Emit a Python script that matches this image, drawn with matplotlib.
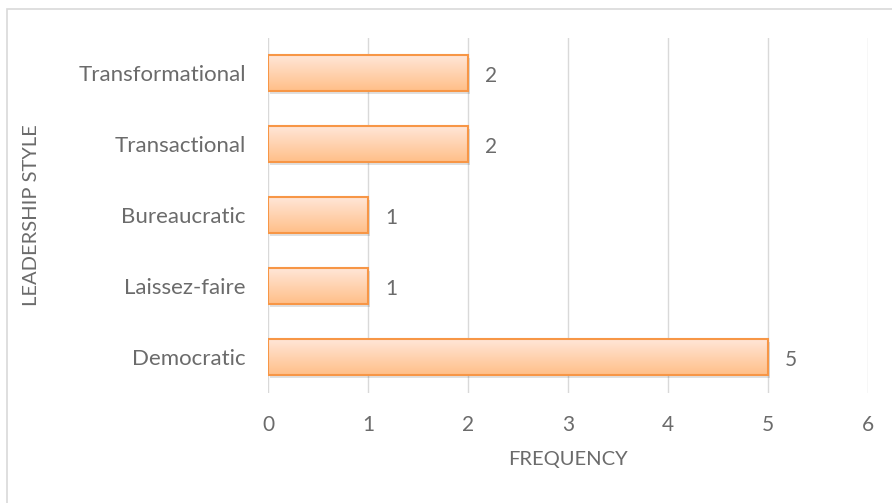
import numpy as np
import matplotlib
matplotlib.use('Agg')
import matplotlib.pyplot as plt
from matplotlib.patches import Rectangle
from matplotlib.colors import LinearSegmentedColormap

styles = ['Democratic', 'Laissez-faire', 'Bureaucratic', 'Transactional', 'Transformational']
frequency = [5, 1, 1, 2, 2]

plt.rcParams['font.family'] = ['Lato', 'DejaVu Sans']
grey = '#6b6b6b'

fig = plt.figure(figsize=(8.92, 5.03), dpi=100)
# 차트 테두리
fig.patches.append(Rectangle((7 / 892, -0.1), 1.2, 1.1 - 9 / 503, transform=fig.transFigure,
                             fill=False, edgecolor='#d9d9d9', linewidth=1.2))

ax = fig.add_axes([268 / 892, (503 - 392.5) / 503, 600 / 892, 355 / 503])
y = np.arange(len(styles))
h = 0.5

cmap = LinearSegmentedColormap.from_list('bar', ['#ffbf88', '#ffe6d8'])
grad = np.linspace(0, 1, 256).reshape(-1, 1)

for yi, v in zip(y, frequency):
    # 그림자
    ax.add_patch(Rectangle((0.02, yi - h / 2 - 0.04), v, h, facecolor='#000000',
                           alpha=0.12, edgecolor='none', zorder=2))
    ax.imshow(grad, extent=(0, v, yi - h / 2, yi + h / 2), origin='lower',
              cmap=cmap, aspect='auto', zorder=3)
    ax.add_patch(Rectangle((0, yi - h / 2), v, h, fill=False, edgecolor='#f79646',
                           linewidth=1.5, zorder=4))
    ax.text(v + 0.17, yi - 0.04, str(v), va='center', ha='left', fontsize=15, color=grey)

ax.set_xlim(0, 6)
ax.set_ylim(-0.5, len(styles) - 0.5)
ax.set_yticks(y)
ax.set_yticklabels(styles)
ax.set_xticks(range(7))
ax.tick_params(axis='both', length=0, labelsize=15, colors=grey)
ax.tick_params(axis='y', labelsize=16, pad=16)
ax.tick_params(axis='x', pad=16)
ax.grid(axis='x', color='#d9d9d9', linewidth=1)
ax.set_axisbelow(True)
for s in ax.spines.values():
    s.set_visible(False)

ax.set_xlabel('FREQUENCY', fontsize=14.5, color=grey, labelpad=12)
ax.set_ylabel('LEADERSHIP STYLE', fontsize=14.5, color=grey, va='center')
ax.yaxis.set_label_coords(-236 / 600, 0.5)

plt.savefig('out.png', dpi=100)
